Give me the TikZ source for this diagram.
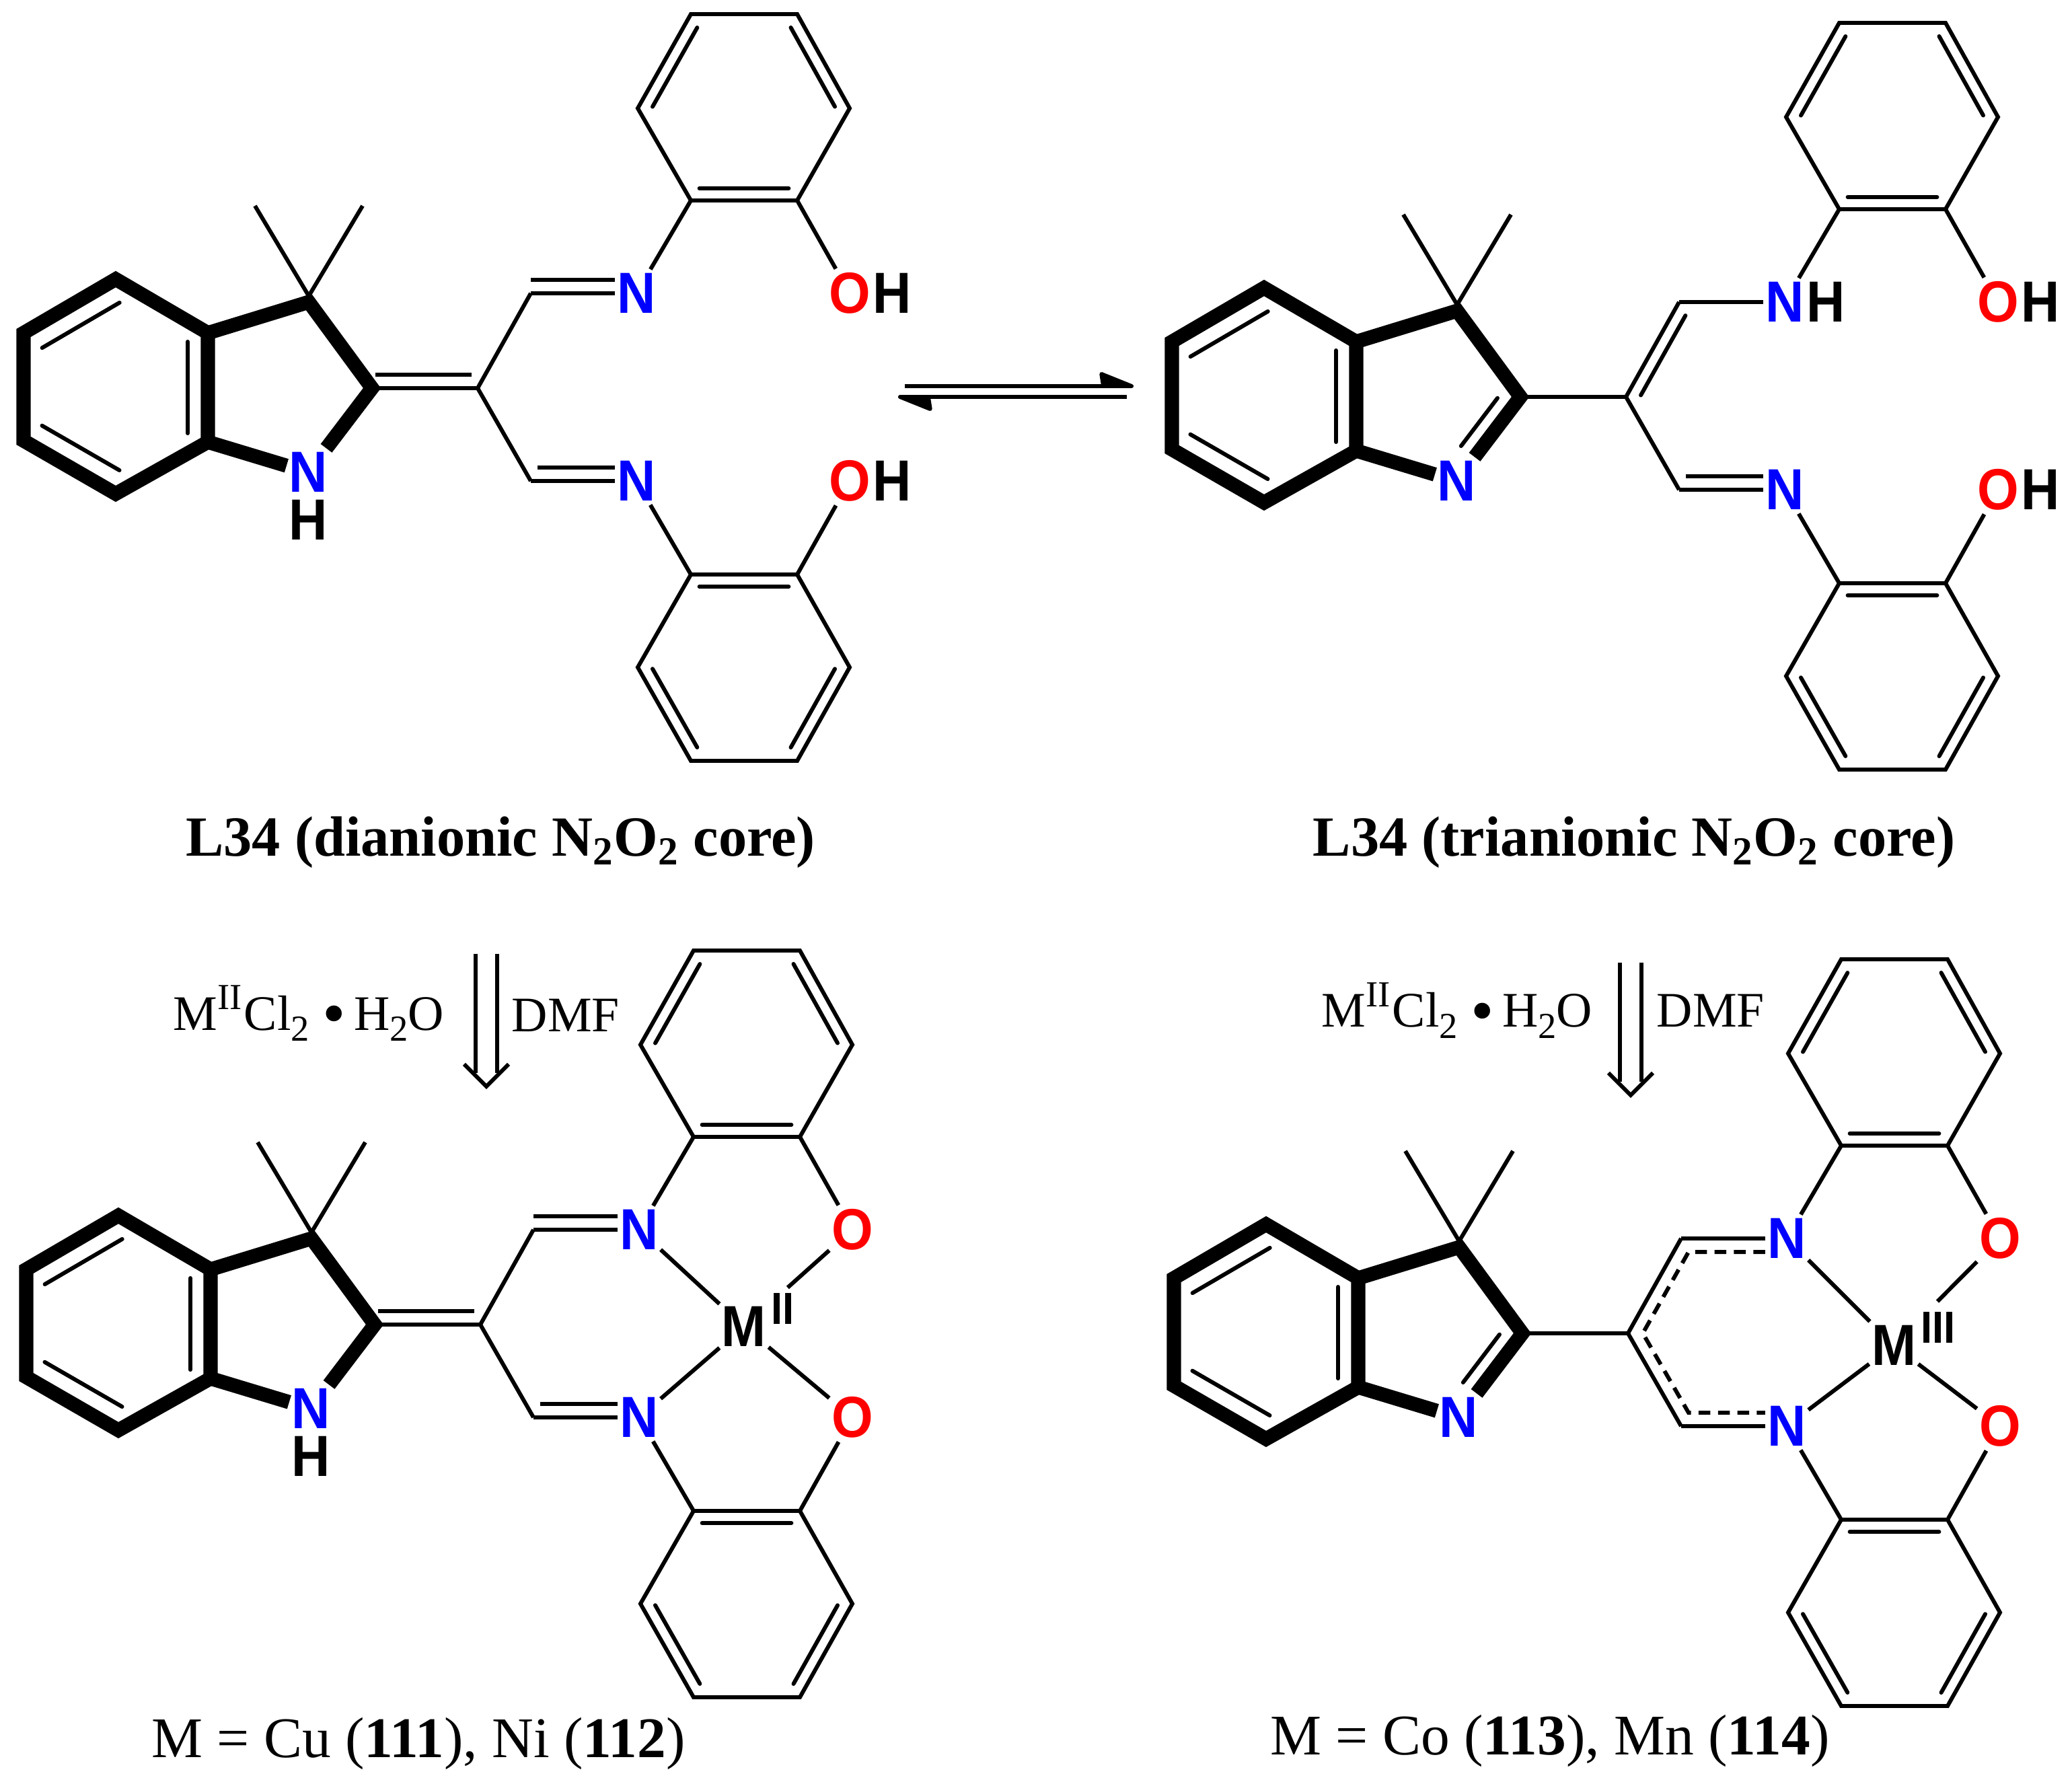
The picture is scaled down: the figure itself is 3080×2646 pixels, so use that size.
\documentclass[tikz,border=0pt]{standalone}
\usepackage{fontspec}
\setmainfont{Liberation Serif}
\setsansfont[FakeStretch=.92]{Liberation Sans}
\usetikzlibrary{positioning}
\usetikzlibrary{calc,arrows.meta}

\newcommand{\innerbond}[3]{\draw[style=bond, line cap=round] ($(#1)!.08!(#2)!#3!90:(#2)$) -- ($(#1)!.92!(#2)!#3!-90:(#1)$);}
\newcommand{\hi}[1]{\raisebox{.3cm}{\fontsize{15.5}{15.5}\selectfont #1}}
\newcommand{\lo}[1]{\raisebox{-.16cm}{\fontsize{15.5}{15.5}\selectfont #1}}
\newcommand{\salt}{M\hi{II}\kern.03cm Cl\lo{2}\hspace{.2cm}\raisebox{-.08cm}{\fontsize{28}{28}\selectfont\textbullet}\hspace{.12cm}H\lo{2}O}

% atoms and bonds that all four molecules share
\newcommand{\skeleton}{
\coordinate (Ba) at (172,415);
\coordinate (Bb) at (35,495);
\coordinate (Bc) at (35,655);
\coordinate (Bd) at (172,734);
\coordinate (Be) at (309,657);
\coordinate (Bf) at (309,495);
\coordinate (Pq) at (459,449);
\coordinate (Pm) at (459,440);
\coordinate (Pr) at (553,577);
\coordinate (Me1) at (379,306);
\coordinate (Me2) at (539,306);
\coordinate (Cc) at (710,577);
\coordinate (Cu) at (789,436);
\coordinate (Cl) at (789,715);
\node[atom, text=nblue] (Ni) at (458,702) {N};
\node[atom, text=nblue] (Nu) at (946,436) {N};
\node[atom, text=nblue] (Nl) at (946,715) {N};
% upper ring
\coordinate (Ua) at (1027,298);
\coordinate (Ub) at (948,161);
\coordinate (Uc) at (1027,21);
\coordinate (Ud) at (1185,21);
\coordinate (Ue) at (1263,161);
\coordinate (Uf) at (1185,298);
% lower ring
\coordinate (La) at (1027,854);
\coordinate (Lb) at (948,992);
\coordinate (Lc) at (1027,1131);
\coordinate (Ld) at (1185,1131);
\coordinate (Le) at (1263,992);
\coordinate (Lf) at (1185,854);

\draw[style=heavy] (Be) -- (Bd) -- (Bc) -- (Bb) -- (Ba) -- (Bf) -- cycle;
\draw[style=heavy] (Bf) -- (Pq) -- (Pr) -- (Ni);
\draw[style=heavy] (Be) -- (Ni);
\innerbond{Bb}{Ba}{-.33cm}
\innerbond{Bc}{Bd}{.33cm}
\innerbond{Bf}{Be}{-.3cm}
\draw[style=bond] (Pm) -- (Me1);
\draw[style=bond] (Pm) -- (Me2);
\draw[style=bond] (Cc) -- (Cu);
\draw[style=bond] (Cc) -- (Cl);
\draw[style=bond] (Cu) -- (Nu);
\draw[style=bond] (Cl) -- (Nl);
\draw[style=bond] (Nu) -- (Ua);
\draw[style=bond] (Nl) -- (La);
\draw[style=bond, line join=miter] (Ua) -- (Ub) -- (Uc) -- (Ud) -- (Ue) -- (Uf) -- cycle;
\draw[style=bond, line join=miter] (La) -- (Lb) -- (Lc) -- (Ld) -- (Le) -- (Lf) -- cycle;
\innerbond{Ub}{Uc}{-.18cm}
\innerbond{Ud}{Ue}{-.18cm}
\innerbond{Ua}{Uf}{.18cm}
\innerbond{La}{Lf}{-.18cm}
\innerbond{Lb}{Lc}{.18cm}
\innerbond{Ld}{Le}{.18cm}
}

\begin{document}
\begin{tikzpicture}[x=0.01cm,y=-0.01cm]
\definecolor{nblue}{HTML}{0000FF}
\definecolor{ored}{HTML}{FF0000}
\tikzstyle{bond}=[line width=1.7pt]
\tikzstyle{heavy}=[line width=6pt, line join=miter]
\tikzstyle{atom}=[font=\fontsize{24.5}{24.5}\selectfont\sffamily\bfseries, inner xsep=1pt, inner ysep=1.7pt, outer sep=0pt]
\tikzstyle{sup-atom}=[font=\fontsize{19}{19}\selectfont\sffamily\bfseries, inner xsep=1pt, inner ysep=0pt, outer sep=0pt]
\tikzstyle{title}=[font=\fontsize{24}{24}\selectfont\bfseries]
\tikzstyle{caption}=[font=\fontsize{24.3}{24.3}\selectfont]
\tikzstyle{reagent}=[font=\fontsize{21}{21}\selectfont, anchor=base, inner sep=0pt]
\tikzstyle{dash-bond}=[line width=1.7pt, dash pattern=on 5pt off 3.2pt]
\useasboundingbox (0,0) rectangle (3080,2646);

% top left
\begin{scope}[shift={(0,0)}, name prefix=a-]
\skeleton
\node[atom, below=0pt of Ni] (Hi) {H};
\node[atom, text=ored] (Ou) at (1263,436) {O};
\node[atom, right=-1pt of Ou] (Hu) {H};
\node[atom, text=ored] (Ol) at (1263,715) {O};
\node[atom, right=-1pt of Ol] (Hl) {H};
\draw[style=bond] (Pr) -- (Cc);
\draw[style=bond] ([xshift=.05cm,yshift=.2cm]Pr) -- ([xshift=-.09cm,yshift=.2cm]Cc);
\draw[style=bond] ([yshift=.2cm]Cu) -- ([yshift=.2cm]Nu.west);
\draw[style=bond] ([xshift=.1cm,yshift=.2cm]Cl) -- ([yshift=.2cm]Nl.west);
\draw[style=bond] (Uf) -- (Ou);
\draw[style=bond] (Lf) -- (Ol);
\end{scope}

% top right
\begin{scope}[shift={(1707,13)}, name prefix=b-]
\skeleton
\node[atom, right=-1pt of Nu] (Hu) {H};
\node[atom, text=ored] (Ou) at (1263,436) {O};
\node[atom, right=-1pt of Ou] (Hou) {H};
\node[atom, text=ored] (Ol) at (1263,715) {O};
\node[atom, right=-1pt of Ol] (Hol) {H};
\draw[style=bond] (Pr) -- (Cc);
\draw[style=bond, line cap=round] ($(Ni)!.29!(Pr)!.26cm!90:(Pr)$) -- ($(Ni)!.86!(Pr)!.26cm!-90:(Ni)$);
\innerbond{Cu}{Cc}{.18cm}
\draw[style=bond] ([xshift=.1cm,yshift=.2cm]Cl) -- ([yshift=.2cm]Nl.west);
\draw[style=bond] (Uf) -- (Ou);
\draw[style=bond] (Lf) -- (Ol);
\end{scope}

% bottom left
\begin{scope}[shift={(4,1392)}, name prefix=c-]
\skeleton
\node[atom, below=0pt of Ni] (Hi) {H};
\node[atom, text=ored] (Ou) at (1263,436) {O};
\node[atom, text=ored] (Ol) at (1263,715) {O};
\node[atom] (Mt) at (1102,580) {M};
\node[style=sup-atom, anchor=west] (Ms) at ([yshift=.26cm]Mt.east) {II};
\draw[style=bond] (Pr) -- (Cc);
\draw[style=bond] ([xshift=.05cm,yshift=.2cm]Pr) -- ([xshift=-.09cm,yshift=.2cm]Cc);
\draw[style=bond] ([yshift=.2cm]Cu) -- ([yshift=.2cm]Nu.west);
\draw[style=bond] ([xshift=.1cm,yshift=.2cm]Cl) -- ([yshift=.2cm]Nl.west);
\draw[style=bond] (Uf) -- (Ou);
\draw[style=bond] (Lf) -- (Ol);
\draw[style=bond] (Nu) -- (Mt);
\draw[style=bond] (Nl) -- (Mt);
\draw[style=bond, shorten >=.38cm] (Ou) -- (Mt);
\draw[style=bond] (Ol) -- (Mt);
\end{scope}

% bottom right
\begin{scope}[shift={(1710,1405)}, name prefix=d-]
\skeleton
\node[atom, text=ored] (Ou) at (1263,436) {O};
\node[atom, text=ored] (Ol) at (1263,715) {O};
\node[atom] (Mt) at (1105,595) {M};
\node[style=sup-atom, anchor=west] (Ms) at ([yshift=.26cm]Mt.east) {III};
\draw[style=bond] (Pr) -- (Cc);
\draw[style=bond, line cap=round] ($(Ni)!.29!(Pr)!.26cm!90:(Pr)$) -- ($(Ni)!.86!(Pr)!.26cm!-90:(Ni)$);
\draw[style=dash-bond] ([yshift=-.2cm]Nu.west) -- ([xshift=.11cm,yshift=-.2cm]Cu) -- ([xshift=.22cm]Cc) -- ([xshift=.11cm,yshift=.2cm]Cl) -- ([yshift=.2cm]Nl.west);
\draw[style=bond] (Uf) -- (Ou);
\draw[style=bond] (Lf) -- (Ol);
\draw[style=bond] (Nu) -- (Mt);
\draw[style=bond] (Nl) -- (Mt);
\draw[style=bond, shorten >=.42cm] (Ou) -- (Mt);
\draw[style=bond] (Ol) -- (Mt);
\end{scope}

% equilibrium
\coordinate (Ea) at (1345,574);
\coordinate (Eb) at (1685,574);
\coordinate (Ec) at (1675,590);
\coordinate (Ed) at (1335,590);
\draw[style=bond, -{Stealth[left, length=.56cm, width=.44cm, inset=.03cm, round]}] (Ea) -- (Eb);
\draw[style=bond, -{Stealth[left, length=.56cm, width=.44cm, inset=.03cm, round]}] (Ec) -- (Ed);

% reaction arrows
\foreach \A/\X/\Y in {R/723/1418,S/2424/1431}{
\coordinate (\A top) at (\X,\Y);
\coordinate (\A tip) at (\X,\Y+197);
\draw[style=bond] ([xshift=-.16cm]\A top) -- ([xshift=-.16cm,yshift=.2cm]\A tip);
\draw[style=bond] ([xshift=.16cm]\A top) -- ([xshift=.16cm,yshift=.2cm]\A tip);
\draw[style=bond, line join=miter] ([xshift=-.33cm,yshift=.33cm]\A tip) -- (\A tip) -- ([xshift=.33cm,yshift=.33cm]\A tip);
}

\node[style=reagent] (Ra) at (459,1531) {\salt};
\node[style=reagent] (Rb) at (841,1534) {DMF};
\node[style=reagent] (Sa) at (2166,1527) {\salt};
\node[style=reagent] (Sb) at (2543,1527) {DMF};

\node[style=title] (Ta) at (744,1252) {L34 (dianionic N\textsubscript{2}O\textsubscript{2} core)};
\node[style=title] (Tb) at (2429,1252) {L34 (trianionic N\textsubscript{2}O\textsubscript{2} core)};
\node[style=caption] (Ca) at (622,2592) {M = Cu (\textbf{111}), Ni (\textbf{112})};
\node[style=caption] (Cb) at (2304,2588) {M = Co (\textbf{113}), Mn (\textbf{114})};

\end{tikzpicture}
\end{document}
